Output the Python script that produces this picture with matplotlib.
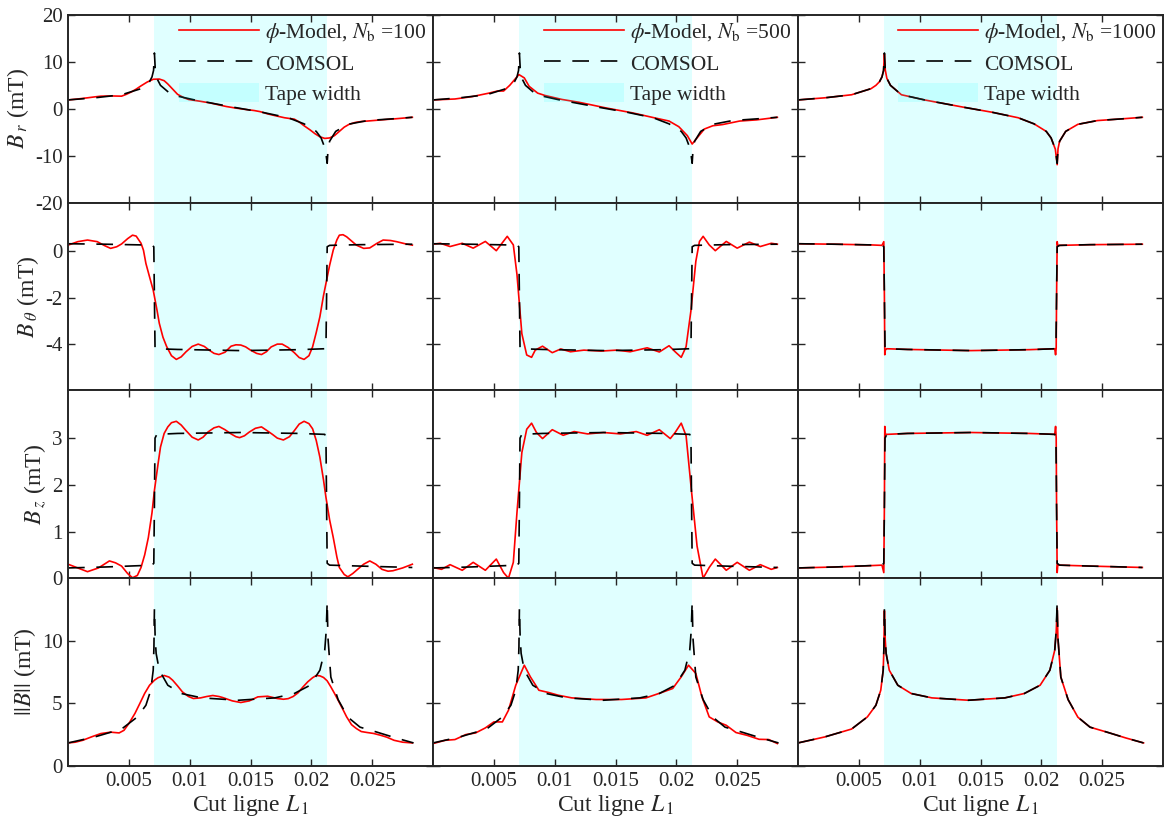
import matplotlib
matplotlib.use('Agg')
import matplotlib.pyplot as plt

plt.rcParams['font.family'] = ['Liberation Serif', 'DejaVu Serif']
plt.rcParams['mathtext.fontset'] = 'stix'
plt.rcParams['font.size'] = 15

# Tape edges (m)
tape_left = 0.0071
tape_right = 0.02125

# ---------------- COMSOL reference (same in every column) ----------------
x_br_com = [0, 0.0022, 0.0044, 0.0060, 0.0064, 0.0067, 0.0069, 0.00703, 0.0071, 0.00717,
            0.0073, 0.0076, 0.0085, 0.0104, 0.0137, 0.0159, 0.0181, 0.0194, 0.0204, 0.0208,
            0.02115, 0.0213, 0.02137, 0.0215, 0.0220, 0.0230, 0.0246, 0.0268, 0.0283]
br_com = [1.9, 2.35, 3.0, 4.3, 5.0, 5.8, 6.8, 8.2, 11.9, 8.4,
          6.5, 5.0, 3.0, 1.9, 0.3, -0.7, -1.9, -3.2, -4.8, -6.2,
          -8.6, -11.6, -8.6, -6.9, -4.8, -3.3, -2.5, -2.1, -1.8]

x_bt_com = [0, 0.003, 0.006, 0.0069, 0.00705, 0.0071, 0.00715, 0.0073, 0.009, 0.0142,
            0.019, 0.0211, 0.02120, 0.02125, 0.0213, 0.0215, 0.024, 0.0283]
bt_com = [0.33, 0.31, 0.28, 0.26, 0.2, -2.0, -4.15, -4.2, -4.23, -4.28,
          -4.24, -4.2, -4.15, -2.0, 0.2, 0.26, 0.29, 0.31]

x_bz_com = x_bt_com
bz_com = [0.22, 0.24, 0.27, 0.28, 0.32, 1.6, 3.0, 3.08, 3.1, 3.12,
          3.1, 3.08, 3.0, 1.6, 0.32, 0.28, 0.26, 0.23]

x_bn_com = [0, 0.0022, 0.0044, 0.0057, 0.0064, 0.0068, 0.0070, 0.00706, 0.0071, 0.00716,
            0.00724, 0.0075, 0.0082, 0.0093, 0.0110, 0.0140, 0.0170, 0.0186, 0.0199, 0.0207,
            0.0211, 0.02122, 0.0213, 0.02136, 0.0216, 0.0222, 0.0230, 0.0240, 0.0254, 0.0269,
            0.0284]
bn_com = [1.84, 2.32, 2.95, 3.92, 4.85, 6.05, 7.65, 9.5, 12.6, 10.3,
          9.0, 7.65, 6.45, 5.79, 5.44, 5.25, 5.44, 5.79, 6.45, 7.65,
          9.25, 10.8, 13.1, 10.3, 7.1, 5.3, 3.9, 3.1, 2.7, 2.25,
          1.84]

# ---------------- phi-Model, Nb = 100 ----------------
x_br_100 = [0, 0.0008, 0.0016, 0.0022, 0.0027, 0.0035, 0.0044, 0.0048, 0.0052, 0.0056,
            0.0060, 0.0065, 0.0070, 0.0075, 0.0079, 0.0082, 0.0086, 0.0090, 0.0095, 0.0099,
            0.0104, 0.0109, 0.0116, 0.0123, 0.0130, 0.0137, 0.0145, 0.0153, 0.0158, 0.0164,
            0.0171, 0.0178, 0.0186, 0.0190, 0.0194, 0.0199, 0.0203, 0.0207, 0.0211, 0.0215,
            0.0219, 0.0223, 0.0227, 0.0231, 0.0236, 0.0241, 0.0246, 0.0253, 0.0260, 0.0270,
            0.0283]
br_100 = [1.9, 2.1, 2.35, 2.55, 2.7, 2.75, 2.7, 3.1, 3.6, 4.2,
          4.9, 5.7, 6.3, 6.35, 6.0, 5.3, 4.2, 3.1, 2.4, 2.0,
          1.8, 1.6, 1.3, 0.9, 0.5, 0.2, -0.1, -0.36, -0.6, -1.07,
          -1.5, -1.9, -2.2, -2.8, -3.6, -4.5, -5.3, -5.95, -6.3, -6.2,
          -5.7, -4.8, -3.9, -3.3, -2.9, -2.7, -2.6, -2.45, -2.3, -2.1,
          -1.8]

x_bt_100 = [0, 0.0008, 0.0016, 0.0024, 0.0030, 0.0035, 0.0040, 0.0044, 0.0049, 0.0053,
            0.0056, 0.0060, 0.0062, 0.0064, 0.0067, 0.0070, 0.0073, 0.0075, 0.0078, 0.0081,
            0.0085, 0.0089, 0.0093, 0.0097, 0.0102, 0.0107, 0.0112, 0.0116, 0.0120, 0.0124,
            0.0129, 0.0134, 0.0138, 0.0142, 0.0146, 0.0150, 0.0155, 0.0159, 0.0163, 0.0167,
            0.0172, 0.0176, 0.0181, 0.0186, 0.0190, 0.0194, 0.0198, 0.0201, 0.0204, 0.0207,
            0.0210, 0.0212, 0.0215, 0.0218, 0.0221, 0.0223, 0.0226, 0.0229, 0.0233, 0.0237,
            0.0243, 0.0248, 0.0254, 0.0259, 0.0265, 0.0270, 0.0277, 0.0283]
bt_100 = [0.27, 0.42, 0.49, 0.42, 0.25, 0.13, 0.2, 0.32, 0.55, 0.7,
          0.66, 0.35, 0.05, -0.52, -1.1, -1.67, -2.5, -3.1, -3.7, -4.1,
          -4.5, -4.66, -4.55, -4.33, -4.1, -4.0, -4.1, -4.26, -4.4, -4.45,
          -4.35, -4.09, -4.03, -4.04, -4.12, -4.26, -4.4, -4.45, -4.33, -4.12,
          -4.0, -4.0, -4.15, -4.37, -4.58, -4.66, -4.5, -4.12, -3.5, -2.82,
          -1.9, -1.38, -0.6, 0.06, 0.5, 0.7, 0.72, 0.63, 0.45, 0.27,
          0.13, 0.15, 0.35, 0.49, 0.47, 0.42, 0.33, 0.27]

x_bz_100 = [0, 0.0008, 0.0016, 0.0025, 0.0034, 0.0039, 0.0044, 0.0049, 0.0053, 0.0057,
            0.0060, 0.0063, 0.0066, 0.0069, 0.0071, 0.0074, 0.0076, 0.0079, 0.0082, 0.0085,
            0.0089, 0.0093, 0.0097, 0.0102, 0.0107, 0.0111, 0.0115, 0.0120, 0.0124, 0.0129,
            0.0134, 0.0138, 0.0141, 0.0145, 0.0149, 0.0154, 0.0159, 0.0163, 0.0168, 0.0172,
            0.0177, 0.0182, 0.0186, 0.0190, 0.0194, 0.0198, 0.0201, 0.0204, 0.0207, 0.0210,
            0.0212, 0.0215, 0.0218, 0.0221, 0.0223, 0.0227, 0.0230, 0.0234, 0.0238, 0.0243,
            0.0248, 0.0253, 0.0258, 0.0263, 0.0267, 0.0275, 0.0283]
bz_100 = [0.3, 0.22, 0.14, 0.22, 0.37, 0.33, 0.26, 0.1, 0.01, 0.06,
          0.23, 0.5, 0.87, 1.4, 1.88, 2.45, 2.81, 3.1, 3.24, 3.33,
          3.36, 3.28, 3.16, 3.02, 2.96, 3.02, 3.13, 3.22, 3.25, 3.18,
          3.09, 3.03, 3.01, 3.05, 3.13, 3.21, 3.24, 3.17, 3.08, 3.0,
          2.96, 3.03, 3.16, 3.3, 3.36, 3.31, 3.2, 2.95, 2.59, 2.1,
          1.73, 1.25, 0.87, 0.45, 0.23, 0.08, 0.03, 0.1, 0.19, 0.3,
          0.37, 0.3, 0.19, 0.15, 0.16, 0.22, 0.3]

x_bn_100 = [0, 0.0006, 0.0012, 0.0020, 0.0027, 0.0035, 0.0042, 0.0046, 0.0050, 0.0055,
            0.0059, 0.0063, 0.0067, 0.0071, 0.0074, 0.0079, 0.0083, 0.0086, 0.0090, 0.0094,
            0.0099, 0.0103, 0.0109, 0.0114, 0.0119, 0.0124, 0.0127, 0.0135, 0.0142, 0.0149,
            0.0156, 0.0164, 0.0172, 0.0177, 0.0181, 0.0185, 0.0189, 0.0193, 0.0197, 0.0201,
            0.0204, 0.0207, 0.0210, 0.0213, 0.0216, 0.0219, 0.0222, 0.0226, 0.0229, 0.0233,
            0.0237, 0.0241, 0.0246, 0.0251, 0.0257, 0.0262, 0.0268, 0.0275, 0.0283]
bn_100 = [1.84, 1.9, 2.05, 2.35, 2.59, 2.7, 2.64, 2.85, 3.39, 4.2,
          4.99, 5.8, 6.45, 6.85, 7.05, 7.23, 7.1, 6.85, 6.4, 5.92,
          5.55, 5.39, 5.44, 5.55, 5.63, 5.55, 5.47, 5.2, 5.07, 5.2,
          5.52, 5.57, 5.39, 5.33, 5.38, 5.55, 5.84, 6.3, 6.72, 7.05,
          7.23, 7.2, 7.07, 6.8, 6.32, 5.8, 5.25, 4.5, 3.92, 3.3,
          2.99, 2.75, 2.67, 2.6, 2.45, 2.3, 2.05, 1.9, 1.84]

# ---------------- phi-Model, Nb = 500 ----------------
x_br_500 = [0, 0.0018, 0.0032, 0.0046, 0.0053, 0.0058, 0.0063, 0.00706, 0.0075, 0.0079,
            0.0086, 0.0092, 0.0106, 0.0120, 0.0142, 0.0164, 0.0180, 0.0194, 0.0202, 0.0209,
            0.0213, 0.0217, 0.0223, 0.0230, 0.0238, 0.0252, 0.0266, 0.0283]
br_500 = [1.9, 2.1, 2.6, 3.35, 3.8, 3.8, 5.0, 7.3, 6.6, 4.8,
          3.35, 2.85, 2.0, 1.4, 0.2, -0.86, -1.8, -2.6, -3.8, -5.7,
          -7.5, -6.2, -4.3, -3.6, -3.35, -2.6, -2.35, -1.8]

x_bt_500 = [0, 0.0006, 0.0014, 0.0024, 0.0033, 0.0043, 0.0052, 0.0061, 0.0066, 0.0069,
            0.0073, 0.0077, 0.0081, 0.0084, 0.0090, 0.0098, 0.0105, 0.0113, 0.0124, 0.0138,
            0.0151, 0.0162, 0.0176, 0.0186, 0.0194, 0.0199, 0.0204, 0.0208, 0.0212, 0.0216,
            0.0219, 0.0222, 0.0227, 0.0232, 0.0241, 0.0250, 0.0260, 0.0269, 0.0278, 0.0283]
bt_500 = [0.31, 0.35, 0.21, 0.35, 0.14, 0.43, 0.03, 0.65, 0.28, -1.0,
          -3.55, -4.47, -4.57, -4.26, -4.09, -4.37, -4.21, -4.33, -4.26, -4.3,
          -4.26, -4.33, -4.16, -4.34, -4.07, -4.33, -4.57, -4.11, -2.55, -0.43,
          0.43, 0.65, 0.28, 0.03, 0.43, 0.14, 0.4, 0.21, 0.35, 0.31]

x_bz_500 = [0, 0.0007, 0.0014, 0.0024, 0.0033, 0.0043, 0.0052, 0.0058, 0.0062, 0.0066,
            0.0069, 0.0073, 0.0077, 0.0081, 0.0085, 0.0090, 0.0098, 0.0107, 0.0116, 0.0127,
            0.0140, 0.0154, 0.0167, 0.0176, 0.0186, 0.0195, 0.0199, 0.0204, 0.0208, 0.0212,
            0.0217, 0.0222, 0.0227, 0.0232, 0.0241, 0.0250, 0.0260, 0.0269, 0.0278, 0.0283]
bz_500 = [0.23, 0.19, 0.29, 0.17, 0.34, 0.17, 0.41, 0.12, 0.0, 0.34,
          1.41, 2.69, 3.19, 3.32, 3.12, 2.99, 3.18, 3.06, 3.14, 3.09,
          3.12, 3.09, 3.14, 3.06, 3.18, 2.99, 3.12, 3.32, 3.05, 1.98,
          0.69, 0.0, 0.23, 0.41, 0.17, 0.34, 0.17, 0.29, 0.19, 0.23]

x_bn_500 = [0, 0.0010, 0.0018, 0.0027, 0.0035, 0.0043, 0.0050, 0.0057, 0.0062, 0.0068,
            0.0075, 0.0080, 0.0087, 0.0095, 0.0103, 0.0114, 0.0134, 0.0155, 0.0175, 0.0188,
            0.0197, 0.0204, 0.0210, 0.0216, 0.0221, 0.0227, 0.0234, 0.0241, 0.0249, 0.0258,
            0.0268, 0.0276, 0.0283]
bn_500 = [1.79, 2.05, 2.11, 2.51, 2.64, 3.04, 3.52, 3.52, 4.45, 6.45,
          8.05, 7.12, 6.05, 5.87, 5.65, 5.44, 5.31, 5.31, 5.44, 5.87,
          6.19, 7.12, 8.05, 7.39, 5.52, 3.92, 3.52, 3.25, 2.67, 2.45,
          2.13, 2.11, 1.79]

# ---------------- phi-Model, Nb = 1000 ----------------
x_br_1000 = x_br_com
br_1000 = [1.9, 2.35, 3.0, 4.3, 5.0, 5.8, 6.8, 8.1, 11.7, 8.3,
           6.5, 5.0, 3.0, 1.9, 0.3, -0.7, -1.9, -3.2, -4.8, -6.2,
           -8.6, -11.9, -8.5, -6.9, -4.8, -3.3, -2.5, -2.1, -1.8]

x_bt_1000 = [0, 0.003, 0.006, 0.0069, 0.00705, 0.0071, 0.00713, 0.00718, 0.0073, 0.009,
             0.0142, 0.019, 0.0211, 0.02117, 0.02122, 0.02125, 0.0213, 0.02135, 0.0215, 0.024,
             0.0283]
bt_1000 = [0.33, 0.31, 0.28, 0.26, 0.42, -2.0, -4.46, -4.25, -4.2, -4.23,
           -4.28, -4.24, -4.2, -4.46, -4.15, -2.0, 0.42, 0.26, 0.26, 0.29,
           0.31]

x_bz_1000 = x_bt_1000
bz_1000 = [0.22, 0.24, 0.27, 0.28, 0.12, 1.6, 3.25, 3.08, 3.08, 3.1,
           3.12, 3.1, 3.08, 3.25, 3.0, 1.6, 0.12, 0.28, 0.28, 0.26,
           0.23]

x_bn_1000 = x_bn_com
bn_1000 = [1.84, 2.32, 2.95, 3.92, 4.85, 6.05, 7.65, 9.4, 12.4, 10.2,
           9.0, 7.65, 6.45, 5.79, 5.44, 5.25, 5.44, 5.79, 6.45, 7.65,
           9.25, 10.7, 12.6, 10.2, 7.1, 5.3, 3.9, 3.1, 2.7, 2.25,
           1.84]

nb_values = [100, 500, 1000]
model_x = [[x_br_100, x_bt_100, x_bz_100, x_bn_100],
           [x_br_500, x_bt_500, x_bz_500, x_bn_500],
           [x_br_1000, x_bt_1000, x_bz_1000, x_bn_1000]]
model_y = [[br_100, bt_100, bz_100, bn_100],
           [br_500, bt_500, bz_500, bn_500],
           [br_1000, bt_1000, bz_1000, bn_1000]]
com_x = [x_br_com, x_bt_com, x_bz_com, x_bn_com]
com_y = [br_com, bt_com, bz_com, bn_com]

row_labels = [r'$B_{\;r}$ (mT)', r'$B_{\;\theta}$ (mT)', r'$B_{\;z}$ (mT)', r'$||B||$ (mT)']
row_ylims = [(-20, 20), (-6, 2.1), (0, 4.02), (0, 15)]
row_yticks = [[-20, -10, 0, 10, 20], [-4, -2, 0], [0, 1, 2, 3], [0, 5, 10]]
row_yticklabels = [['-20', '-10', '0', '10', '20'], ['-4', '-2', '0'], ['0', '1', '2', '3'], ['0', '5', '10']]
x_ticks = [0.005, 0.01, 0.015, 0.02, 0.025]
x_ticklabels = ['0.005', '0.01', '0.015', '0.02', '0.025']

text_col = '#262626'

fig, axes = plt.subplots(4, 3, figsize=(11.65, 8.27), dpi=100, sharex=True, sharey='row',
                         gridspec_kw=dict(hspace=0, wspace=0))
fig.subplots_adjust(left=0.0584, right=0.9983, top=0.9819, bottom=0.0738)

for r in range(4):
    for c in range(3):
        ax = axes[r, c]
        ax.plot(model_x[c][r], model_y[c][r], color='red', lw=1.2,
                label=r'$\phi$-Model, $N_{\mathrm{b}}$ =' + str(nb_values[c]))
        ax.plot(com_x[r], com_y[r], color='black', lw=1.2, dashes=(10, 7), label='COMSOL')
        ax.axvspan(tape_left, tape_right, color='cyan', alpha=0.12, lw=0, label='Tape width', zorder=0)
        ax.set_xlim(0, 0.03)
        ax.set_ylim(row_ylims[r])
        ax.set_yticks(row_yticks[r])
        ax.set_xticks(x_ticks)
        ax.tick_params(direction='in', top=True, right=True, length=5, width=1.0,
                       labelsize=15, labelcolor=text_col, color=text_col, pad=4)
        for s in ax.spines.values():
            s.set_linewidth(1.4)
            s.set_color(text_col)
        if c == 0:
            ax.set_yticklabels(row_yticklabels[r])
            ax.set_ylabel(row_labels[r], fontsize=17, color=text_col, labelpad=3)
        if r == 3:
            ax.set_xticklabels(x_ticklabels)
            ax.set_xlabel(r'Cut ligne $L_{\,1}$', fontsize=17, color=text_col, labelpad=2)
        if r == 0:
            ax.legend(loc='upper right', frameon=False, fontsize=15.5, handlelength=3.7,
                      handletextpad=0.3, labelspacing=0.35, borderpad=0.2, borderaxespad=0.1,
                      handleheight=1.0, labelcolor=text_col)

fig.savefig('out.png', dpi=100)
